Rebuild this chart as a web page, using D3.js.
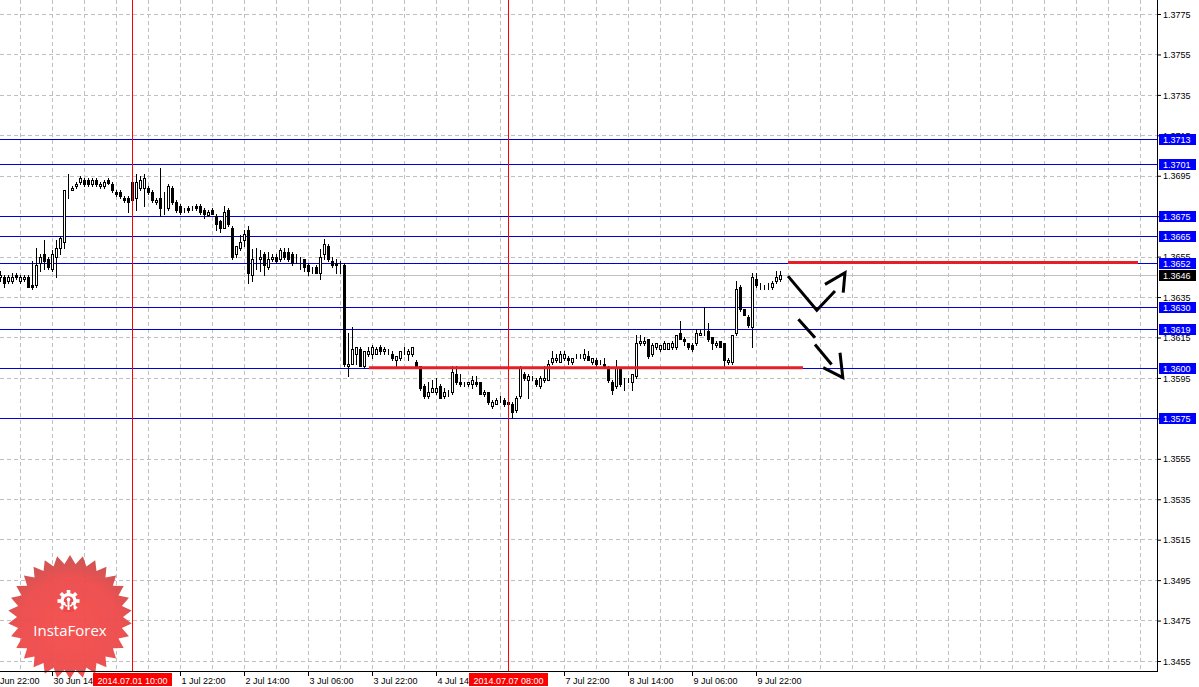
<!DOCTYPE html>
<html><head><meta charset="utf-8">
<script src="https://cdn.jsdelivr.net/npm/d3@7"></script>
<style>html,body{margin:0;padding:0;background:#fff;overflow:hidden}svg{display:block}</style>
</head><body><svg id="chart" width="1199" height="687"></svg>
<script>
// ---- DATA (EURUSD H1, bars counted from 29 Jun 22:00) ----
const firstBar = 3;
const opens = [
1.3645,1.3645,1.3643,1.3643,1.3646,1.3643,1.3644,1.3645,1.3641,1.3641,
1.3652,1.3656,1.3654,1.3649,1.3655,1.3659,1.3662,1.3689,1.3688,1.3690,
1.3692,1.3693,1.3693,1.3691,1.3693,1.3690,1.3690,1.3693,1.3691,1.3687,
1.3687,1.3684,1.3684,1.3692,1.3684,1.3689,1.3689,1.3689,1.3687,1.3682,
1.3684,1.3680,1.3679,1.3689,1.3682,1.3680,1.3678,1.3679,1.3679,1.3680,
1.3680,1.3678,1.36755,1.3678,1.3675,1.36725,1.3669,1.3678,1.3669,1.3656,
1.3659,1.3663,1.3668,1.3646,1.3654,1.3654,1.3656,1.3650,1.3654,1.3655,
1.3654,1.3657,1.3657,1.3656,1.3653,1.3654,1.3654,1.3651,1.3649,1.3650,
1.3647,1.3656,1.3660,1.3653,1.3652,1.3650,1.3651,1.3601,1.3602,1.3607,
1.3609,1.3601,1.3607,1.3607,1.3607,1.3610,1.3608,1.3608,1.3607,1.3604,
1.3605,1.3608,1.3607,1.3607,1.3603,1.3601,1.3591,1.3586,1.3588,1.3588,
1.3591,1.3586,1.3588,1.3588,1.3597,1.3593,1.3592,1.3592,1.3592,1.3593,
1.3593,1.3587,1.3588,1.3581,1.3582,1.3583,1.3584,1.3583,1.3582,1.3579,
1.3586,1.3597,1.3594,1.3595,1.3594,1.3591,1.3594,1.3594,1.3603,1.3604,
1.3603,1.3605,1.3605,1.3603,1.3606,1.3606,1.3605,1.3606,1.3603,1.3604,
1.3603,1.3602,1.3600,1.3593,1.3591,1.3600,1.3593,1.3594,1.3593,1.3596,
1.3612,1.3612,1.3614,1.3607,1.3610,1.3609,1.3609,1.3609,1.3610,1.3610,
1.3617,1.3614,1.3612,1.3611,1.3612,1.3616,1.3617,1.3618,1.3615,1.3611,
1.3613,1.3612,1.3603,1.3603,1.3617,1.3640,1.3629,1.3625,1.3620,1.3644,
1.3640,1.3640,1.3640,1.3640,1.3643,1.3644];
const highs = [
1.3648,1.3646,1.3646,1.3647,1.3647,1.3646,1.3646,1.3646,1.3653,1.3659,
1.3656,1.3663,1.3655,1.3658,1.3663,1.3665,1.3688,1.3696,1.3690,1.3692,
1.3695,1.3694,1.3694,1.3694,1.3694,1.3692,1.3693,1.3694,1.3692,1.3688,
1.3688,1.3685,1.3685,1.3693,1.3696,1.3695,1.3696,1.3690,1.3688,1.3684,
1.3699,1.3687,1.3691,1.3690,1.3683,1.3681,1.3679,1.3680,1.3680,1.3681,
1.3681,1.3679,1.3678,1.3679,1.3676,1.3673,1.3680,1.3679,1.3670,1.3660,
1.36655,1.3668,1.3670,1.36585,1.3659,1.3658,1.3657,1.3657,1.3656,1.3656,
1.3659,1.3659,1.3659,1.3657,1.3656,1.3655,1.3654,1.3652,1.3650,1.3651,
1.36585,1.36635,1.3661,1.3655,1.3654,1.3653,1.3652,1.3617,1.3620,1.3610,
1.3610,1.3608,1.3610,1.3611,1.3610,1.3611,1.3610,1.3609,1.3608,1.3606,
1.3608,1.3610,1.3609,1.3610,1.3604,1.3601,1.3592,1.3593,1.3594,1.3595,
1.3592,1.3590,1.3589,1.3601,1.3601,1.3597,1.3593,1.3593,1.3596,1.3596,
1.3593,1.3589,1.3588,1.3584,1.3585,1.3586,1.3585,1.3584,1.3583,1.3586,
1.3601,1.3598,1.3597,1.3596,1.3595,1.3596,1.3601,1.3604,1.3608,1.3607,
1.3608,1.3608,1.3606,1.3605,1.3607,1.3607,1.3609,1.3608,1.3605,1.3605,
1.3604,1.3605,1.3601,1.3594,1.3604,1.3600,1.3595,1.3595,1.3597,1.3616,
1.3616,1.3615,1.3614,1.3612,1.3612,1.3611,1.3613,1.3612,1.3613,1.3616,
1.3623,1.3615,1.3612,1.3612,1.3619,1.3619,1.3630,1.3622,1.3615,1.3613,
1.3613,1.3612,1.3605,1.3616,1.3643,1.3641,1.3629,1.3626,1.3647,1.3647,
1.3642,1.3641,1.3642,1.3643,1.3648,1.3648];
const lows = [
1.3643,1.3640,1.3642,1.3642,1.3644,1.3642,1.3643,1.3640,1.3639,1.3640,
1.3648,1.3649,1.3649,1.3648,1.3645,1.3656,1.3659,1.3684,1.3688,1.3689,
1.3691,1.3690,1.3690,1.3690,1.3690,1.3689,1.3689,1.3691,1.3687,1.3685,
1.3684,1.3682,1.3677,1.3682,1.3678,1.3688,1.3680,1.3686,1.3682,1.3681,
1.3675,1.3676,1.3678,1.3681,1.3677,1.3676,1.3677,1.3677,1.3678,1.3678,
1.3676,1.3674,1.3675,1.3676,1.3668,1.3667,1.3669,1.3670,1.3654,1.3655,
1.3658,1.3660,1.3642,1.3643,1.3649,1.3648,1.3646,1.3649,1.3653,1.3652,
1.3653,1.3654,1.3653,1.3651,1.3652,1.3649,1.3648,1.3646,1.3647,1.3647,
1.3644,1.3654,1.3653,1.3650,1.3647,1.3647,1.3601,1.3596,1.3602,1.3602,
1.3601,1.3600,1.3606,1.3605,1.3607,1.3607,1.3607,1.3607,1.3604,1.3601,
1.3604,1.3607,1.3604,1.3606,1.3600,1.3589,1.3585,1.3585,1.3588,1.3587,
1.3585,1.3585,1.3586,1.3587,1.3592,1.3591,1.3591,1.3591,1.3590,1.3591,
1.3587,1.3586,1.3582,1.3580,1.3582,1.3583,1.3581,1.3582,1.3575,1.3578,
1.3585,1.3594,1.3585,1.3594,1.3591,1.3590,1.3593,1.3594,1.3602,1.3603,
1.3603,1.3604,1.3602,1.3602,1.3605,1.3605,1.3604,1.3604,1.3602,1.3601,
1.3602,1.3600,1.3593,1.3587,1.3590,1.3591,1.3589,1.3593,1.3589,1.3595,
1.3611,1.3611,1.3605,1.3606,1.3609,1.3608,1.3609,1.3609,1.3609,1.3609,
1.3614,1.3611,1.3609,1.3608,1.3611,1.3616,1.3616,1.3613,1.3609,1.3610,
1.3610,1.3601,1.3602,1.3602,1.3616,1.3628,1.3626,1.3620,1.3610,1.3640,
1.3639,1.3639,1.3639,1.3639,1.3642,1.3643];
const closes = [
1.3646,1.3642,1.3645,1.3645,1.3645,1.3645,1.3645,1.3640,1.3640,1.3651,
1.3655,1.3653,1.3650,1.3656,1.3659,1.3664,1.3688,1.3689,1.3689,1.3691,
1.3694,1.3691,1.3691,1.3693,1.3691,1.3691,1.3692,1.36915,1.3688,1.3686,
1.3685,1.3683,1.3682,1.3683,1.3692,1.3693,1.3694,1.3687,1.3683,1.3683,
1.3679,1.3680,1.3690,1.3682,1.3678,1.3677,1.3678,1.3678,1.3679,1.3679,
1.3677,1.3676,1.3677,1.3676,1.3671,1.3669,1.3677,1.3671,1.3655,1.3660,
1.3662,1.3666,1.3647,1.3654,1.3654,1.3655,1.3651,1.3654,1.3655,1.3653,
1.3658,1.3655,1.3654,1.3652,1.3653,1.3654,1.3650,1.3648,1.3649,1.3647,
1.3655,1.3661,1.3654,1.3651,1.3651,1.3650,1.3602,1.3602,1.3609,1.3610,
1.3601,1.3608,1.3608,1.3610,1.3609,1.3608,1.3609,1.3608,1.3605,1.3606,
1.3608,1.3608,1.3608,1.3610,1.3601,1.3590,1.3586,1.3588,1.3590,1.3590,
1.3585,1.3588,1.3588,1.3598,1.3593,1.3592,1.3592,1.3593,1.3594,1.3592,
1.3587,1.3588,1.3583,1.3583,1.3584,1.3583,1.3582,1.3582,1.3578,1.3585,
1.3600,1.3595,1.3596,1.3595,1.3592,1.3595,1.3595,1.3602,1.3605,1.3605,
1.3607,1.3607,1.3604,1.3605,1.3606,1.3606,1.3607,1.3604,1.3605,1.3602,
1.3603,1.3600,1.3594,1.3589,1.3600,1.3592,1.3593,1.3594,1.3597,1.3612,
1.3613,1.3613,1.3606,1.3611,1.3612,1.3611,1.3612,1.3612,1.3612,1.3616,
1.3614,1.3613,1.3610,1.3609,1.3617,1.3617,1.3617,1.3614,1.3612,1.3612,
1.3610,1.3604,1.3604,1.3616,1.3639,1.3629,1.3626,1.3621,1.3645,1.3641,
1.3640,1.3640,1.3640,1.3642,1.3645,1.3646];

const priceTicks = [1.3455,1.3475,1.3495,1.3515,1.3535,1.3555,1.3575,1.3595,1.3615,1.3635,1.3655,1.3675,1.3695,1.3715,1.3735,1.3755,1.3775];
// visible time labels (the others sit under the highlighted date boxes)
const timeTickBars = [16,48,64,80,96,112,144,160,176,192];
const timeTickLabels = ["30 Jun 14","1 Jul 22:00","2 Jul 14:00","3 Jul 06:00","3 Jul 22:00","4 Jul 14","7 Jul 22:00","8 Jul 14:00","9 Jul 06:00","9 Jul 22:00"];
const firstTickLabel = "Jun 22:00";
const markerBars = [36,130];
const markerLabels = ["2014.07.01 10:00","2014.07.07 08:00"];
const levelPrices = [1.3713,1.3701,1.3675,1.3665,1.3652,1.3630,1.3619,1.3600,1.3575];
const bidPrice = 1.3646;
const redLevelPrices = [1.3652,1.3600];
const redLevelFrom = [200,95.25];
const redLevelTo = [287.5,203.75];
// annotation arrows in (bar, price)
const arrowUpLine = [[200,1.36453],[207.2,1.36284],[211.75,1.36379]];
const arrowUpHead = [[209.25,1.36412],[214.25,1.36470],[213.8,1.36371]];
const arrowDownDashes = [[[202.6,1.36239],[206.75,1.36148]],[[206.75,1.36115],[210.9,1.36016]]];
const arrowDownHead = [[208.8,1.36000],[213.7,1.35951],[213,1.36074]];

// ---- CHART ----
const plotR = 1157, plotB = 671;
const svg = d3.select('#chart');
const x = d3.scaleLinear().domain([0,292.25]).range([-12,1157]);
const y = d3.scaleLinear().domain([1.3455,1.3775]).range([660.7,14]);
const px = v => Math.round(x(v));
const py = v => Math.round(y(v));
const FONT = '"Liberation Sans", Arial, sans-serif';

svg.append('rect').attr('width',1199).attr('height',687).attr('fill','#fff');
svg.append('defs').append('clipPath').attr('id','plot').append('rect').attr('width',plotR).attr('height',plotB);
const g = svg.append('g').attr('clip-path','url(#plot)');

// grid
g.selectAll('line.hg').data(priceTicks).join('line').attr('class','hg')
  .attr('x1',0).attr('x2',plotR).attr('y1',d=>py(d)+0.5).attr('y2',d=>py(d)+0.5)
  .attr('stroke','#c0c0c0').attr('stroke-dasharray','4,3');
g.selectAll('line.vg').data(d3.range(8,292,8)).join('line').attr('class','vg')
  .attr('x1',d=>px(d)+0.5).attr('x2',d=>px(d)+0.5).attr('y1',0).attr('y2',plotB)
  .attr('stroke','#c0c0c0').attr('stroke-dasharray','4,3');

// level lines
g.selectAll('line.lv').data(levelPrices).join('line').attr('class','lv')
  .attr('x1',0).attr('x2',plotR).attr('y1',d=>py(d)+0.5).attr('y2',d=>py(d)+0.5)
  .attr('stroke','#0000d8');
g.append('line').attr('x1',0).attr('x2',plotR).attr('y1',py(bidPrice)+0.5).attr('y2',py(bidPrice)+0.5).attr('stroke','#c0c0c0');

// candles
const candles = opens.map((o,k)=>({i:firstBar+k,o,h:highs[k],l:lows[k],c:closes[k]}));
const cg = g.append('g');
cg.selectAll('line.wick').data(candles).join('line').attr('class','wick')
  .attr('x1',d=>px(d.i)+0.5).attr('x2',d=>px(d.i)+0.5)
  .attr('y1',d=>py(d.h)).attr('y2',d=>py(d.l)+1).attr('stroke','#000');
cg.selectAll('rect.body').data(candles).join('rect').attr('class','body')
  .attr('x',d=>px(d.i)-0.5).attr('width',2)
  .attr('y',d=>py(Math.max(d.o,d.c))+0.5)
  .attr('height',d=>Math.max(0,py(Math.min(d.o,d.c))-py(Math.max(d.o,d.c))))
  .attr('fill',d=>d.c>=d.o?'#fff':'#000').attr('stroke','#000').attr('stroke-width',1);

// red vertical markers
g.selectAll('line.mk').data(markerBars).join('line').attr('class','mk')
  .attr('x1',d=>px(d)+0.5).attr('x2',d=>px(d)+0.5).attr('y1',0).attr('y2',plotB).attr('stroke','#ff0000');

// red thick levels
g.selectAll('line.rl').data(redLevelPrices).join('line').attr('class','rl')
  .attr('x1',(d,k)=>x(redLevelFrom[k])).attr('x2',(d,k)=>x(redLevelTo[k]))
  .attr('y1',d=>y(d)).attr('y2',d=>y(d)).attr('stroke','#e61e28').attr('stroke-width',3);

// arrows
const ln = d3.line().x(d=>x(d[0])).y(d=>y(d[1]));
const ag = g.append('g').attr('fill','none').attr('stroke','#000').attr('stroke-width',3).attr('stroke-linecap','butt');
ag.append('path').attr('d',ln(arrowUpLine));
ag.append('path').attr('d',ln(arrowUpHead));
arrowDownDashes.forEach(s=>ag.append('path').attr('d',ln(s)));
ag.append('path').attr('d',ln(arrowDownHead));

// logo
const defs = svg.select('defs');
const rg = defs.append('radialGradient').attr('id','lg').attr('cx','50%').attr('cy','60%').attr('r','60%');
rg.append('stop').attr('offset','0%').attr('stop-color','#f44a4a');
rg.append('stop').attr('offset','70%').attr('stop-color','#ec4848');
rg.append('stop').attr('offset','100%').attr('stop-color','#c84c4c');
const lcx=70, lcy=617, nP=30, rO=62, rI=53;
const starPts = d3.range(nP*2).map(k=>{const r=k%2?rI:rO; const a=k*Math.PI/nP - Math.PI/2; return [lcx+r*Math.cos(a), lcy+r*Math.sin(a)];});
const logo = svg.append('g');
logo.append('polygon').attr('points',starPts.map(p=>p.join(',')).join(' ')).attr('fill','url(#lg)').attr('opacity',0.95);
// gear icon
const gx=68.5, gy=601;
const gear = logo.append('g').attr('transform',`translate(${gx},${gy})`);
d3.range(8).forEach(k=>gear.append('rect').attr('x',-1.8).attr('y',-11).attr('width',3.6).attr('height',4).attr('fill','#fff').attr('transform',`rotate(${k*45})`));
gear.append('circle').attr('r',8).attr('fill','#fff');
gear.append('circle').attr('r',4.8).attr('fill','#ec4848');
gear.append('rect').attr('x',-5).attr('y',4).attr('width',10).attr('height',7).attr('fill','#ec4848');
gear.append('circle').attr('cy',-1.5).attr('r',1.9).attr('fill','#fff');
gear.append('rect').attr('x',-1).attr('y',0).attr('width',2).attr('height',9).attr('fill','#fff');
gear.append('path').attr('d','M-4,1 Q-4,5 -1.2,5').attr('stroke','#fff').attr('stroke-width',1.5).attr('fill','none');
gear.append('path').attr('d','M4,1 Q4,5 1.2,5').attr('stroke','#fff').attr('stroke-width',1.5).attr('fill','none');
logo.append('text').attr('x',lcx).attr('y',636).attr('text-anchor','middle').attr('fill','#fff')
  .attr('font-family','"Open Sans", sans-serif').attr('font-size',15).text('InstaForex');

// axes frame
svg.append('line').attr('x1',plotR+0.5).attr('x2',plotR+0.5).attr('y1',0).attr('y2',plotB+1).attr('stroke','#000');
svg.append('line').attr('x1',0).attr('x2',plotR+1).attr('y1',plotB+0.5).attr('y2',plotB+0.5).attr('stroke','#000');

// right price axis
const yAxis = d3.axisRight(d3.scaleLinear().domain(y.domain()).range(y.range().map(Math.round)))
  .tickValues(priceTicks).tickSize(4).tickPadding(2).tickFormat(d3.format('.4f'));
const ya = svg.append('g').attr('transform',`translate(${plotR},0)`).call(yAxis);
ya.select('.domain').remove();
ya.selectAll('text').attr('font-family',FONT).attr('font-size',9).attr('fill','#000').attr('dy','0.35em');
ya.selectAll('line').attr('stroke','#000');

// level labels
const lab = svg.append('g');
const boxes = levelPrices.map(p=>({p,bg:'#0000ff'})).concat([{p:bidPrice,bg:'#000'}]);
boxes.forEach(b=>{
  const yy = py(b.p);
  lab.append('rect').attr('x',1159).attr('y',yy-5).attr('width',37).attr('height',11).attr('fill',b.bg);
  lab.append('text').attr('x',1163).attr('y',yy+4).attr('font-family',FONT).attr('font-size',9).attr('fill','#fff').text(d3.format('.4f')(b.p));
});

// bottom time axis
const xa = svg.append('g');
xa.append('text').attr('x',0).attr('y',684).attr('font-family',FONT).attr('font-size',9).attr('fill','#000').text(firstTickLabel);
timeTickBars.forEach((b,k)=>{
  const xx = px(b)+0.5;
  xa.append('line').attr('x1',xx).attr('x2',xx).attr('y1',plotB).attr('y2',plotB+5).attr('stroke','#000');
  xa.append('text').attr('x',xx+1).attr('y',684).attr('font-family',FONT).attr('font-size',9).attr('fill','#000').text(timeTickLabels[k]);
});
markerBars.forEach((b,k)=>{
  const xx = px(b);
  xa.append('rect').attr('x',xx-39).attr('y',673).attr('width',79).attr('height',13).attr('fill','#ff0000');
  xa.append('text').attr('x',xx+0.5).attr('y',684).attr('text-anchor','middle').attr('font-family',FONT).attr('font-size',9).attr('fill','#fff').text(markerLabels[k]);
});
</script></body></html>
